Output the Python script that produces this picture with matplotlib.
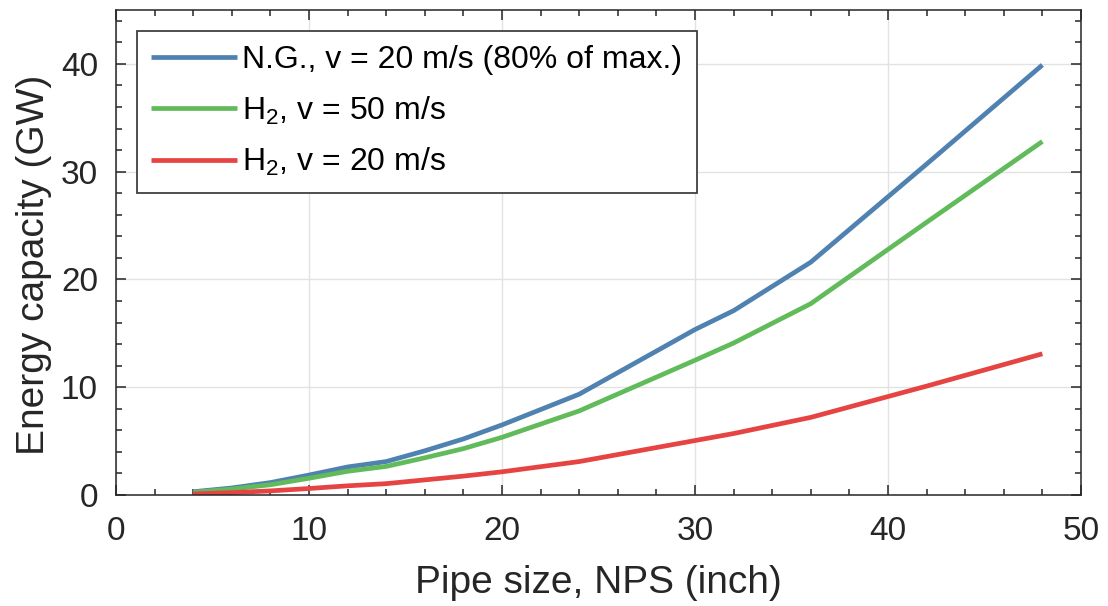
import numpy as np
import matplotlib
matplotlib.use('Agg')
from matplotlib import pyplot as plt
from matplotlib.ticker import MultipleLocator

plt.rcParams['font.family'] = ['Liberation Sans', 'DejaVu Sans']
plt.rcParams['mathtext.fontset'] = 'custom'
plt.rcParams['mathtext.rm'] = 'Liberation Sans'

# pipe sizes (NPS, inch) and energy capacity (GW)
nps = [4, 6, 8, 10, 12, 14, 16, 18, 20, 24, 30, 32, 36, 42, 48]
ng_20 = [0.3, 0.65, 1.15, 1.85, 2.6, 3.1, 4.1, 5.2, 6.5, 9.35, 15.35, 17.1, 21.6, 30.7, 39.9]
h2_50 = [0.25, 0.55, 0.95, 1.55, 2.2, 2.65, 3.45, 4.3, 5.35, 7.8, 12.5, 14.1, 17.75, 25.3, 32.8]
h2_20 = [0.1, 0.22, 0.38, 0.6, 0.85, 1.05, 1.4, 1.75, 2.15, 3.1, 5.05, 5.7, 7.2, 10.1, 13.1]

labels = ['N.G., v = 20 m/s (80% of max.)',
          r'H$_\mathregular{2}$, v = 50 m/s',
          r'H$_\mathregular{2}$, v = 20 m/s']
colors = ['#4f82b0', '#62bb5b', '#e64443']

fig = plt.figure(figsize=(11.08, 6.06), dpi=100)
ax = fig.add_axes([0.1047, 0.1832, 0.8709, 0.8003])

for y, lab, c in zip([ng_20, h2_50, h2_20], labels, colors):
    ax.plot(nps, y, color=c, lw=3.4, label=lab, solid_capstyle='butt')

ax.set_xlim(0, 50)
ax.set_ylim(0, 45)
ax.xaxis.set_major_locator(MultipleLocator(10))
ax.xaxis.set_minor_locator(MultipleLocator(2))
ax.yaxis.set_major_locator(MultipleLocator(10))
ax.yaxis.set_minor_locator(MultipleLocator(2))
ax.grid(True, which='major', color='#e2e2e2', lw=1)
ax.set_axisbelow(True)

ax.tick_params(which='both', direction='in', top=True, right=True,
               colors='#262626', labelsize=24, width=1.1)
ax.tick_params(which='major', length=7)
ax.tick_params(which='minor', length=4.5)
ax.tick_params(axis='x', which='major', pad=15)
ax.tick_params(axis='y', which='major', pad=13)
for s in ax.spines.values():
    s.set_color('#262626')
    s.set_linewidth(1.1)

ax.set_xlabel('Pipe size, NPS (inch)', fontsize=28, color='#262626', labelpad=13)
ax.set_ylabel('Energy capacity (GW)', fontsize=28, color='#262626')
ax.yaxis.set_label_coords(-0.066, 0.475)

leg = ax.legend(loc='upper left', fontsize=23, fancybox=False, framealpha=1,
                edgecolor='#404040', handlelength=2.7, handletextpad=0.15,
                labelspacing=0.6, borderaxespad=0.65, borderpad=0.45)
leg.get_frame().set_linewidth(1.3)

fig.savefig('out.png', dpi=100)
